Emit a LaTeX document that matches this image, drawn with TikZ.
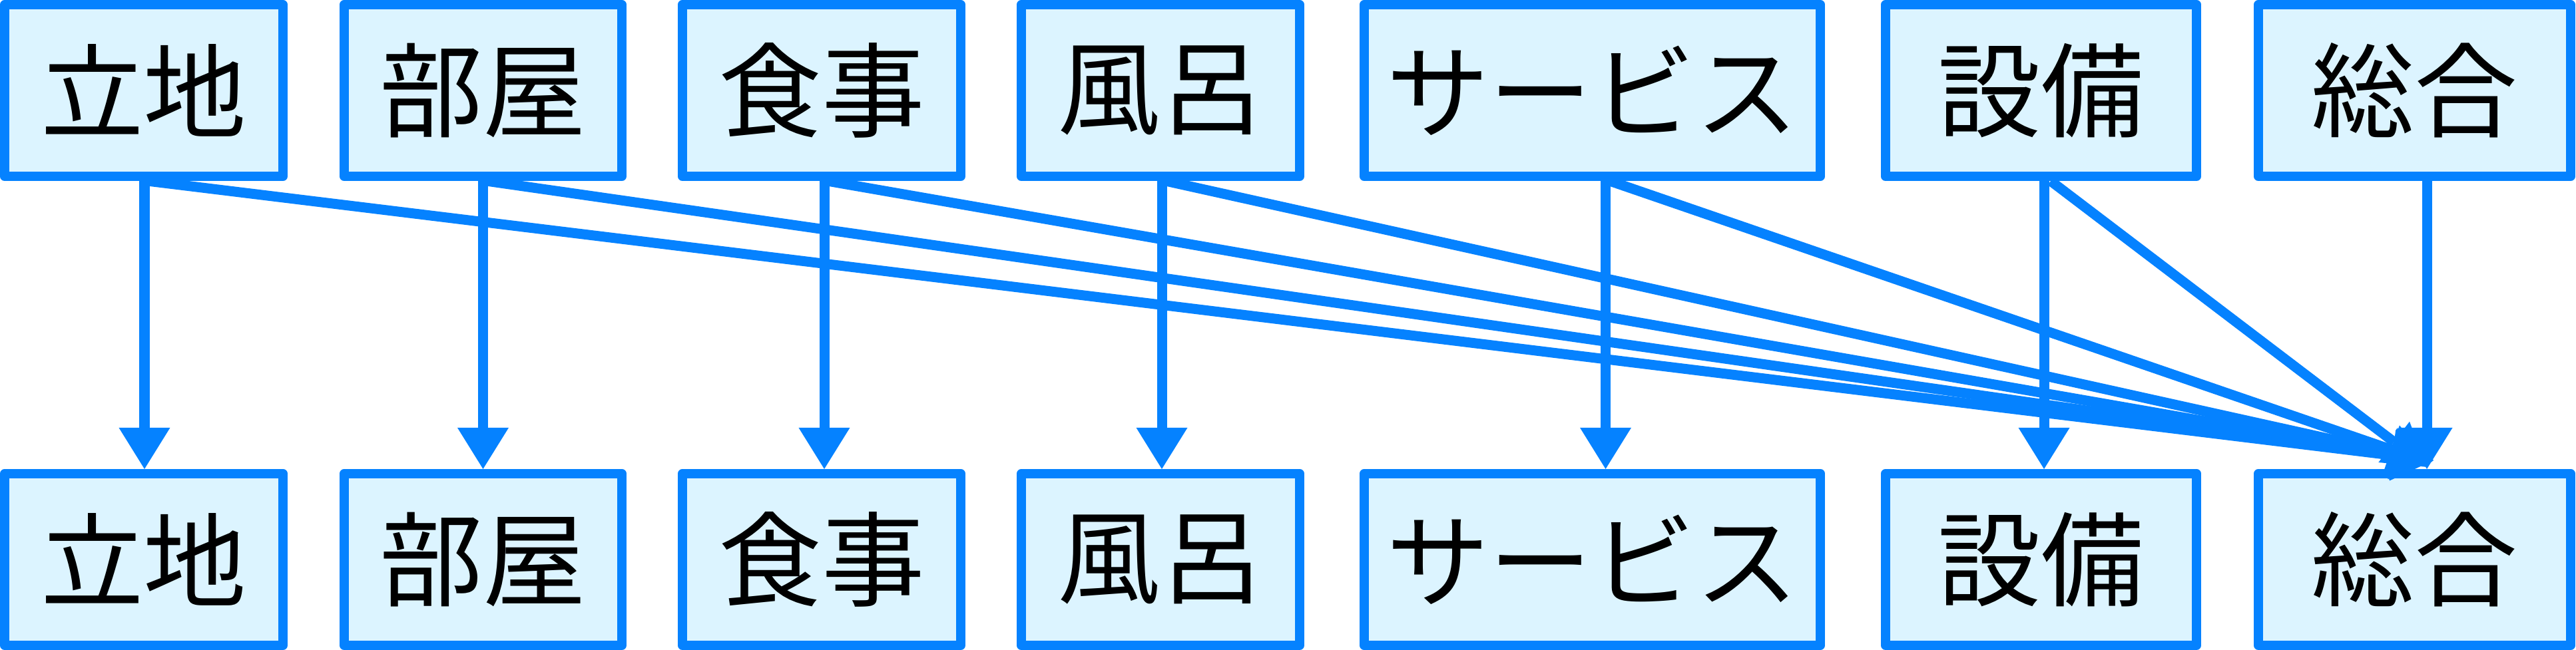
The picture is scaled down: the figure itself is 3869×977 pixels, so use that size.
\documentclass[tikz,border=0pt]{standalone}
\usepackage{fontspec}
\newfontfamily\jp{Noto Sans CJK JP}
\usetikzlibrary{arrows.meta}
\definecolor{bdr}{RGB}{5,130,255}
\definecolor{fil}{RGB}{220,244,255}
\begin{document}
\begin{tikzpicture}[x=0.01cm,y=-0.01cm,
  box/.style={draw=bdr, fill=fil, line width=0.14cm, line join=round,
    minimum height=2.58cm, inner sep=0pt,
    font=\jp\fontsize{44pt}{48pt}\selectfont},
  edge/.style={draw=bdr, line width=0.15cm,
    -{Triangle[length=0.62cm,width=0.77cm,line width=0pt]}}]
\useasboundingbox (0,0) rectangle (3869,977);
% top row
\node[box, minimum width=4.18cm] (t1) at (216,136) {立地};
\node[box, minimum width=4.17cm] (t2) at (725.5,136) {部屋};
\node[box, minimum width=4.18cm] (t3) at (1234,136) {食事};
\node[box, minimum width=4.18cm] (t4) at (1743,136) {風呂};
\node[box, minimum width=6.85cm] (t5) at (2391.5,136) {サービス};
\node[box, minimum width=4.67cm] (t6) at (3065.5,136) {設備};
\node[box, minimum width=4.69cm] (t7) at (3626.5,136) {総合};
% bottom row
\node[box, minimum width=4.18cm] (b1) at (216,841) {立地};
\node[box, minimum width=4.17cm] (b2) at (725.5,841) {部屋};
\node[box, minimum width=4.18cm] (b3) at (1234,841) {食事};
\node[box, minimum width=4.18cm] (b4) at (1743,841) {風呂};
\node[box, minimum width=6.85cm] (b5) at (2391.5,841) {サービス};
\node[box, minimum width=4.67cm] (b6) at (3065.5,841) {設備};
\node[box, minimum width=4.69cm] (b7) at (3626.5,841) {総合};
% diagonal edges into 総合
\draw[edge] ([xshift=0.06cm]t1.south) -- ([xshift=0.285cm,yshift=0.13cm]b7.north);
\draw[edge] ([xshift=0.055cm]t2.south) -- ([xshift=0.285cm,yshift=0.13cm]b7.north);
\draw[edge] ([xshift=0.09cm]t3.south) -- ([xshift=0.275cm,yshift=0.12cm]b7.north);
\draw[edge] ([xshift=0.08cm]t4.south) -- ([xshift=0.265cm,yshift=0.11cm]b7.north);
\draw[edge] ([xshift=0.265cm]t5.south) -- ([xshift=0.235cm,yshift=0.09cm]b7.north);
\draw[edge] ([xshift=0.145cm]t6.south) -- ([xshift=0.185cm,yshift=0.03cm]b7.north);
% vertical edges
\draw[edge] ([xshift=0.01cm]t1.south) -- ([xshift=0.01cm]b1.north);
\draw[edge] (t2.south) -- (b2.north);
\draw[edge] ([xshift=0.04cm]t3.south) -- ([xshift=0.04cm]b3.north);
\draw[edge] ([xshift=0.02cm]t4.south) -- ([xshift=0.02cm]b4.north);
\draw[edge] ([xshift=0.20cm]t5.south) -- ([xshift=0.20cm]b5.north);
\draw[edge] ([xshift=0.045cm]t6.south) -- ([xshift=0.045cm]b6.north);
\draw[edge] ([xshift=0.185cm]t7.south) -- ([xshift=0.185cm]b7.north);
\end{tikzpicture}
\end{document}
